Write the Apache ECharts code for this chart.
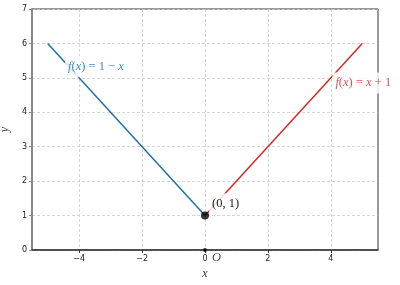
<!DOCTYPE html>
<html>
<head>
<meta charset="utf-8">
<script src="https://cdn.jsdelivr.net/npm/echarts@6/dist/echarts.min.js"></script>
<style>html,body{margin:0;padding:0;background:#fff}#c{width:400px;height:285px}</style>
</head>
<body>
<div id="c"></div>
<script>
// ---- data ----
const leftX = [-5, 0];
const leftY = [6, 1];
const rightX = [0, 5];
const rightY = [1, 6];
const xTicks = [-4, -2, 0, 2, 4];
const yTicks = [0, 1, 2, 3, 4, 5, 6, 7];
const vertex = [0, 1];
const origin = [0, 0];
// annotation anchors (data coords)
const leftLabelAt = [-4.45, 5.32];
const rightLabelAt = [4.05, 4.85];
const vertexLabelAt = [0.13, 1.34];

const serif = 'Liberation Serif';
const rich = (color) => ({
  i: {fontFamily: serif, fontStyle: 'italic', fontSize: 12.5, fill: color, color: color},
  r: {fontFamily: serif, fontSize: 12.5, fill: color, color: color}
});

const chart = echarts.init(document.getElementById('c'), null, {renderer: 'canvas'});
chart.setOption({
  animation: false,
  backgroundColor: '#fff',
  grid: {left: 32, right: 22, top: 9, bottom: 35, outerBoundsMode: 'none', containLabel: false,
    show: true, borderColor: '#333', borderWidth: 1, backgroundColor: 'transparent'},
  xAxis: {
    type: 'value', min: -5.5, max: 5.5,
    name: 'x', nameLocation: 'middle', nameGap: 17,
    nameTextStyle: {fontFamily: serif, fontStyle: 'italic', fontSize: 12, color: '#333'},
    axisLine: {show: true, onZero: false, lineStyle: {color: '#333', width: 1.5}},
    axisTick: {show: true, customValues: xTicks, length: 3, lineStyle: {color: '#333'}},
    axisLabel: {customValues: xTicks, fontFamily: 'DejaVu Sans', fontSize: 8, color: '#222', margin: 5,
      formatter: v => (v < 0 ? '\u2212' + Math.abs(v) : String(v))},
    splitLine: {show: true, lineStyle: {color: '#cccccc', type: [3, 2], width: 0.8}}
  },
  yAxis: {
    type: 'value', min: 0, max: 7, interval: 1,
    name: 'y', nameLocation: 'middle', nameGap: 19,
    nameTextStyle: {fontFamily: serif, fontStyle: 'italic', fontSize: 12, color: '#333'},
    axisLine: {show: true, onZero: false, lineStyle: {color: '#888', width: 2}},
    axisTick: {show: true, length: 3, lineStyle: {color: '#888'}},
    axisLabel: {fontFamily: 'DejaVu Sans', fontSize: 8, color: '#222', margin: 5,
      formatter: v => (yTicks.indexOf(v) >= 0 ? String(v) : '')},
    splitLine: {show: true, lineStyle: {color: '#cccccc', type: [3, 2], width: 0.8}}
  },
  series: [
    {type: 'line', data: leftX.map((x, i) => [x, leftY[i]]), symbol: 'none', z: 2,
      lineStyle: {color: '#1f6fa8', width: 1.5}},
    {type: 'line', data: rightX.map((x, i) => [x, rightY[i]]), symbol: 'none', z: 2,
      lineStyle: {color: '#d62728', width: 1.5}},
    {type: 'scatter', z: 5, data: [vertex], symbolSize: 8, itemStyle: {color: '#000'}},
    {type: 'scatter', z: 5, data: [origin], symbolSize: 4, itemStyle: {color: '#000'}, clip: false,
      label: {show: true, position: 'right', offset: [0, 8],
        formatter: '{i|O}', rich: rich('#222')}}
  ]
});

// annotation boxes placed through the chart's own coordinate conversion
function boxText(at, text, color) {
  const p = chart.convertToPixel({gridIndex: 0}, at);
  return {
    type: 'text', x: p[0], y: p[1], z: 100, zlevel: 1,
    style: {
      text: text, rich: rich(color), align: 'left', verticalAlign: 'middle',
      backgroundColor: 'rgba(255,255,255,0.82)', padding: [4, 3, 4, 3]
    }
  };
}
chart.setOption({
  graphic: [
    boxText(leftLabelAt, '{i|f}{r|(}{i|x}{r|) = 1 \u2212 }{i|x}', 'rgba(31,119,180,0.85)'),
    boxText(rightLabelAt, '{i|f}{r|(}{i|x}{r|) = }{i|x}{r| + 1}', 'rgba(214,39,40,0.8)'),
    boxText(vertexLabelAt, '{r|(0, 1)}', '#222')
  ]
});
</script>
</body>
</html>
